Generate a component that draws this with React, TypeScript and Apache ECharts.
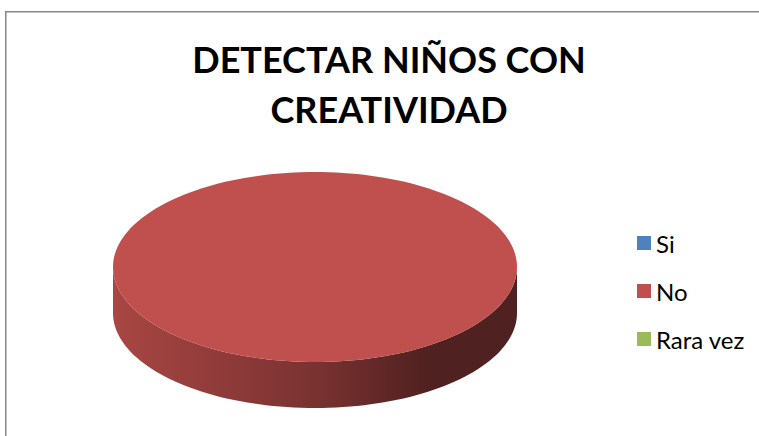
import React, { useEffect, useRef } from "react";
import * as echarts from "echarts";

const categories = ["Si", "No", "Rara vez"];
const values = [0, 100, 0];
const colors = ["#4F81BD", "#C0504D", "#9BBB59"];
const titleLines = ["DETECTAR NIÑOS CON", "CREATIVIDAD"];

const CX = 315;
const CY = 267;
const RX = 202;
const RY = 95;
const DEPTH = 46;

function pt(a: number, dy: number): number[] {
  return [CX + RX * Math.cos(a), CY + RY * Math.sin(a) + dy];
}

function arc(a0: number, a1: number, dy: number): number[][] {
  const n = Math.max(2, Math.ceil((Math.abs(a1 - a0) / (Math.PI * 2)) * 180));
  const out: number[][] = [];
  for (let i = 0; i <= n; i++) out.push(pt(a0 + ((a1 - a0) * i) / n, dy));
  return out;
}

function darken(hex: string, f: number): string {
  const n = parseInt(hex.slice(1), 16);
  const r = Math.round(((n >> 16) & 255) * f);
  const g = Math.round(((n >> 8) & 255) * f);
  const b = Math.round((n & 255) * f);
  return "rgb(" + r + "," + g + "," + b + ")";
}

export default function App() {
  const ref = useRef<HTMLDivElement>(null);
  useEffect(() => {
    if (!ref.current) return;
    const chart = echarts.init(ref.current, null, { renderer: "svg" });
    const total = values.reduce((a, b) => a + b, 0);

    const makeRender = (idx: number) => (params: any, api: any) => {
      const v = api.value(0);
      if (!v || total <= 0) return { type: "group", children: [] };
      let before = 0;
      for (let k = 0; k < idx; k++) before += values[k];
      const start = -Math.PI / 2 + (2 * Math.PI * before) / total;
      const end = start + (2 * Math.PI * v) / total;
      const full = v >= total;
      const base = colors[idx];
      const grad = new echarts.graphic.LinearGradient(
        CX - RX + 4,
        0,
        CX + RX,
        0,
        [
          { offset: 0, color: darken(base, 0.87) },
          { offset: 0.5, color: darken(base, 0.63) },
          { offset: 0.78, color: darken(base, 0.41) },
          { offset: 1, color: darken(base, 0.41) },
        ],
        true
      );
      const children: any[] = [];
      for (let k = -2; k <= 2; k++) {
        const lo = Math.max(start, 2 * Math.PI * k);
        const hi = Math.min(end, 2 * Math.PI * k + Math.PI);
        if (hi > lo) {
          const top = arc(lo, hi, 0);
          const bottom = arc(hi, lo, DEPTH);
          children.push({
            type: "polygon",
            shape: { points: top.concat(bottom) },
            style: { fill: grad },
          });
        }
      }
      const topPts = full ? arc(0, Math.PI * 2, 0) : [[CX, CY]].concat(arc(start, end, 0));
      children.push({
        type: "polygon",
        shape: { points: topPts },
        style: { fill: base },
      });
      return { type: "group", children };
    };

    chart.setOption({
      animation: false,
      backgroundColor: "#ffffff",
      title: {
        text: titleLines.join("\n"),
        left: 389,
        top: 34,
        padding: 0,
        textAlign: "center",
        textStyle: {
          fontFamily: "Lato",
          fontWeight: "bold",
          fontSize: 36,
          lineHeight: 50,
          color: "#000000",
        },
      },
      legend: {
        orient: "vertical",
        left: 632,
        top: 226,
        itemGap: 24,
        itemWidth: 14,
        itemHeight: 14,
        icon: "rect",
        data: categories,
        textStyle: { fontFamily: "Lato", fontSize: 24, color: "#000000" },
      },
      graphic: [
        {
          type: "rect",
          shape: { x: 5.75, y: 11.75, width: 780, height: 460 },
          style: { fill: "none", stroke: "#878787", lineWidth: 1.5 },
          silent: true,
        },
      ],
      series: categories.map((name, i) => ({
        type: "custom",
        name,
        coordinateSystem: "none",
        itemStyle: { color: colors[i] },
        data: [[values[i]]],
        renderItem: makeRender(i),
      })),
    });
    return () => chart.dispose();
  }, []);
  return (
    <div
      ref={ref}
      style={{ position: "fixed", left: 0, top: 0, width: 759, height: 436 }}
    />
  );
}
